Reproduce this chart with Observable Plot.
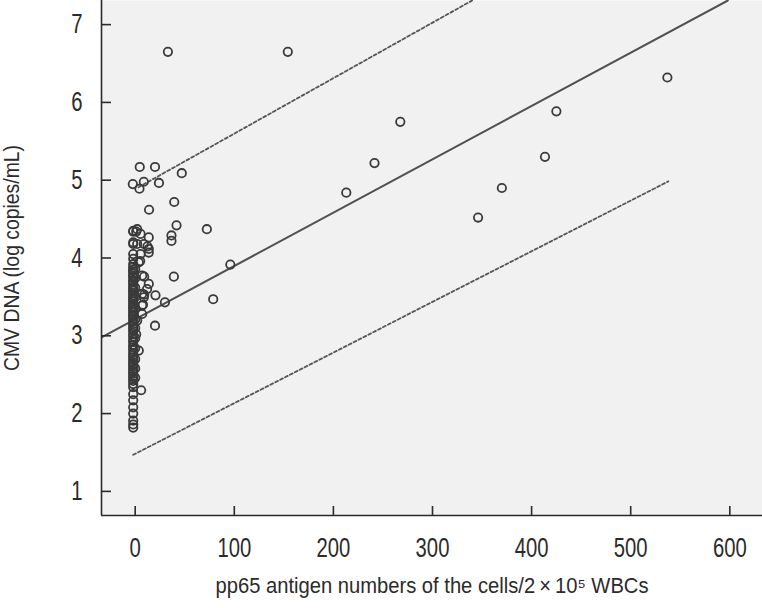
<!DOCTYPE html>
<html>
<head>
<meta charset="utf-8">
<script src="https://cdn.jsdelivr.net/npm/d3@7"></script>
<script src="https://cdn.jsdelivr.net/npm/@observablehq/plot@0.6"></script>
<style>
  html, body { margin: 0; padding: 0; background: #ffffff; }
  #chart { width: 762px; height: 608px; }
</style>
</head>
<body>
<div id="chart"></div>
<script>
// ---- data ----
const xTicks = [0, 100, 200, 300, 400, 500, 600];
const yTicks = [1, 2, 3, 4, 5, 6, 7];
const xDomain = [-34, 633];
const yDomain = [0.69, 7.31];

const xTitle = "pp65 antigen numbers of the cells/2\u2009×\u200910\u2075 WBCs";
const yTitle = "CMV DNA (log copies/mL)";

// scattered points (antigen count, log copies)
const spreadX = [33, 154, 537, 425, 267.5, 413.5, 241.5, 213, 370, 346,
  4.6, 20, 47, -2.4, 4.3, 8.7, 24, 39.4, 14, 41.7, 36.6, 36.6, 72.3, 96,
  78.7, 39, 20.5, 30, 20, 6];
const spreadY = [6.65, 6.65, 6.32, 5.885, 5.75, 5.30, 5.22, 4.84, 4.90, 4.52,
  5.17, 5.17, 5.09, 4.95, 4.89, 4.98, 4.965, 4.72, 4.62, 4.42, 4.29, 4.22, 4.37, 3.915,
  3.47, 3.76, 3.52, 3.43, 3.13, 2.30];

// points just right of the zero column
const nearX = [2, 5.4, 13.7, 2, 8.7, 13.7, 13.7, 5.4, 3.6, 7, 13.7, 12, 7, 8.7,
  7, 7, 2, 3.6, 12.4, 5, 9, 9.1, 7.8, 1, 1];
const nearY = [4.37, 4.31, 4.265, 4.18, 4.18, 4.116, 4.07, 4.05, 3.944, 3.773, 3.667, 3.60, 3.538, 3.495,
  3.388, 3.28, 3.195, 2.81, 4.15, 3.96, 3.76, 3.53, 3.40, 4.34, 3.02];

// the dense column of samples at zero antigen count
const zeroColX = -2;
const zeroColY = [4.35, 4.34, 4.20, 4.18, 4.05, 3.99, 3.92, 3.88, 3.85, 3.83, 3.80, 3.77,
  3.75, 3.71, 3.69, 3.66, 3.63, 3.60, 3.58, 3.55, 3.52, 3.49, 3.47, 3.44, 3.41, 3.38,
  3.36, 3.33, 3.30, 3.27, 3.25, 3.22, 3.19, 3.15, 3.12, 3.09, 3.06, 3.02, 2.99, 2.95,
  2.92, 2.88, 2.85, 2.82, 2.78, 2.75, 2.72, 2.69, 2.66, 2.63, 2.60, 2.57, 2.54, 2.51,
  2.48, 2.45, 2.42, 2.38, 2.34, 2.25, 2.17, 2.08, 2.00, 1.91, 1.86, 1.82];
const zeroCol2X = 0;
const zeroCol2Y = [3.86, 3.74, 3.62, 3.50, 3.35, 3.21, 3.10, 2.97, 2.84, 2.70, 2.58, 2.46];

// regression line and prediction limits (end points)
const fitX = [-34, 598];
const fitY = [2.98, 7.31];
const upperX = [3.4, 340];
const upperY = [4.91, 7.31];
const lowerX = [-2, 538];
const lowerY = [1.47, 4.985];

// ---- build tables ----
const points = [
  ...spreadX.map((x, i) => ({x, y: spreadY[i]})),
  ...nearX.map((x, i) => ({x, y: nearY[i]})),
  ...zeroColY.map(y => ({x: zeroColX, y})),
  ...zeroCol2Y.map(y => ({x: zeroCol2X, y}))
];
const toLine = (X, Y) => X.map((x, i) => ({x, y: Y[i]}));
const fit = toLine(fitX, fitY);
const upper = toLine(upperX, upperY);
const lower = toLine(lowerX, lowerY);

const font = "'Liberation Sans', Arial, sans-serif";
const ink = "#2b2b2b";
const plotW = 762 - 101, plotH = 608 - 93;

const chart = Plot.plot({
  width: 762,
  height: 608,
  marginLeft: 101,
  marginRight: 0,
  marginTop: 0,
  marginBottom: 93,
  style: {fontFamily: font, background: "#ffffff", color: ink},
  x: {domain: xDomain},
  y: {domain: yDomain},
  marks: [
    Plot.frame({fill: "#f1f1f1", stroke: null}),
    Plot.line(upper, {x: "x", y: "y", stroke: "#555555", strokeWidth: 1.8, strokeDasharray: "3,2.5", clip: true}),
    Plot.line(lower, {x: "x", y: "y", stroke: "#555555", strokeWidth: 1.8, strokeDasharray: "3,2.5", clip: true}),
    Plot.line(fit, {x: "x", y: "y", stroke: "#505050", strokeWidth: 2, clip: true}),
    Plot.dot(points, {x: "x", y: "y", r: 4.2, stroke: "#3a3a3a", strokeWidth: 1.8, fill: "none"}),
    Plot.ruleX([xDomain[0]], {stroke: ink, strokeWidth: 1.6}),
    Plot.ruleY([yDomain[0]], {stroke: ink, strokeWidth: 1.6}),
    Plot.tickX(xTicks, {x: d => d, insetTop: plotH - 9, stroke: ink, strokeWidth: 1.6}),
    Plot.tickY(yTicks, {y: d => d, insetRight: plotW - 10, stroke: ink, strokeWidth: 1.6}),
    Plot.axisX(xTicks, {tickSize: 0, tickPadding: 22, fontSize: 27, label: null, fill: ink, tickFormat: d => String(d)}),
    Plot.axisY(yTicks, {tickSize: 0, tickPadding: 19, fontSize: 27, label: null, fill: ink, tickFormat: d => String(d)}),
    Plot.text([xTitle], {text: d => d, frameAnchor: "bottom", dy: 77, fontSize: 21.5, fill: ink}),
    Plot.text([yTitle], {text: d => d, frameAnchor: "left", dx: -90, rotate: -90, fontSize: 22.5, fill: ink})
  ]
});
document.getElementById("chart").appendChild(chart);

// condensed look of the reference typeface: squeeze glyphs horizontally
function squeezeEl(t, factor, target, center) {
  const w = t.getComputedTextLength();
  if (!(w > 0)) return;
  const len = target != null ? target : w * factor;
  t.setAttribute("textLength", len.toFixed(1));
  t.setAttribute("lengthAdjust", "spacingAndGlyphs");
  if (center) {
    t.setAttribute("text-anchor", "start");
    t.setAttribute("x", (-len / 2).toFixed(1));
  }
}
chart.querySelectorAll('g[aria-label="x-axis tick label"] text, g[aria-label="y-axis tick label"] text')
  .forEach(t => squeezeEl(t, 0.75));
chart.querySelectorAll("text").forEach(t => {
  if (t.textContent === xTitle) squeezeEl(t, null, 433, true);
  else if (t.textContent === yTitle) squeezeEl(t, null, 226, true);
});
</script>
</body>
</html>
